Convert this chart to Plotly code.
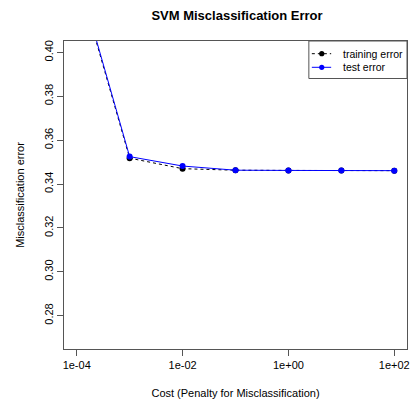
import plotly.graph_objects as go

# Cost values tried in the SVM tuning grid
cost = [1e-4, 1e-3, 1e-2, 1e-1, 1e0, 1e1, 1e2]
train_err = [0.436, 0.3518, 0.3470, 0.3463, 0.3462, 0.3462, 0.3461]
test_err = [0.437, 0.3525, 0.3482, 0.3463, 0.3462, 0.3462, 0.3461]

x_tickvals = [1e-4, 1e-2, 1e0, 1e2]
x_ticktext = ["1e-04", "1e-02", "1e+00", "1e+02"]
y_tickvals = [0.28, 0.30, 0.32, 0.34, 0.36, 0.38, 0.40]
y_ticktext = ["0.28", "0.30", "0.32", "0.34", "0.36", "0.38", "0.40"]

series_names = ["training error", "test error"]
series_colors = ["black", "blue"]
series_dash = ["3px,3px", "solid"]

FONT = "Liberation Sans, Arial, Helvetica, sans-serif"
FRAME = "#555555"

# Figure geometry in pixels
W, H = 412, 400
ML, MR, MT, MB = 64, 2, 41, 51
PW, PH = W - ML - MR, H - MT - MB


def px_x(px):
    """Pixel column -> plot-area paper fraction."""
    return (px - ML) / PW


def px_y(py):
    """Pixel row (from top) -> plot-area paper fraction."""
    return (H - MB - py) / PH


fig = go.Figure()
for name, yvals, color, dash in zip(series_names, [train_err, test_err],
                                     series_colors, series_dash):
    fig.add_trace(go.Scatter(
        x=cost, y=yvals, mode="lines+markers", name=name,
        line=dict(color=color, width=1, dash=dash),
        marker=dict(color=color, size=6),
        showlegend=False,
    ))

# Legend box drawn in the top-right corner of the plot area
shapes = [dict(
    type="rect", xref="paper", yref="paper",
    x0=px_x(311), x1=1, y0=px_y(78.5), y1=1,
    line=dict(color=FRAME, width=1), fillcolor="white", layer="above",
)]
annotations = []
for i, (name, color, dash) in enumerate(zip(series_names, series_colors, series_dash)):
    ypx = 53.7 + i * 13.6
    shapes.append(dict(
        type="line", xref="paper", yref="paper",
        x0=px_x(314), x1=px_x(333.5), y0=px_y(ypx), y1=px_y(ypx),
        line=dict(color=color, width=1, dash=dash), layer="above",
    ))
    shapes.append(dict(
        type="circle", xref="paper", yref="paper",
        xsizemode="pixel", ysizemode="pixel",
        xanchor=px_x(324), yanchor=px_y(ypx),
        x0=-2.6, x1=2.6, y0=-2.6, y1=2.6,
        line=dict(color=color, width=0), fillcolor=color, layer="above",
    ))
    annotations.append(dict(
        text=name, xref="paper", yref="paper",
        x=px_x(343.5), y=px_y(ypx), xanchor="left", yanchor="middle",
        showarrow=False, font=dict(family=FONT, size=10.5, color="black"),
    ))

axis_common = dict(
    showgrid=False, zeroline=False, showline=True, mirror=True,
    linecolor=FRAME, linewidth=1,
    ticks="outside", ticklen=6, tickcolor=FRAME,
    tickfont=dict(family=FONT, size=11, color="black"),
    ticklabeloverflow="allow",
)

fig.update_layout(
    width=W, height=H,
    margin=dict(l=ML, r=MR, t=MT, b=MB),
    paper_bgcolor="white", plot_bgcolor="white",
    font=dict(family=FONT, size=11, color="black"),
    title=dict(
        text="<b>SVM Misclassification Error</b>",
        x=(ML + PW / 2) / W, xanchor="center",
        y=1 - 15 / H, yanchor="middle",
        font=dict(family=FONT, size=13, color="black"),
    ),
    xaxis=dict(
        type="log", range=[-4.24, 2.24],
        tickvals=x_tickvals, ticktext=x_ticktext,
        title=dict(text="Cost (Penalty for Misclassification)", standoff=19,
                   font=dict(family=FONT, size=11)),
        **axis_common,
    ),
    yaxis=dict(
        range=[0.2648, 0.4052],
        tickvals=y_tickvals, ticktext=y_ticktext, tickangle=-90,
        title=dict(text="Misclassification error", standoff=15,
                   font=dict(family=FONT, size=11)),
        **axis_common,
    ),
    shapes=shapes,
    annotations=annotations,
    showlegend=False,
)

fig.write_html("out.html")
